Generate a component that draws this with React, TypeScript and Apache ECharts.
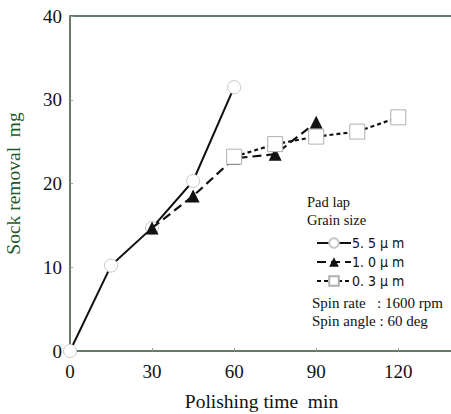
import React, { useEffect, useRef } from "react";
import * as echarts from "echarts";

const xTicks = [0, 30, 60, 90, 120];
const yTicks = [0, 10, 20, 30, 40];

const s55Name = "5. 5 μ m";
const s55X = [0, 15, 30, 45, 60];
const s55Y = [0, 10.2, 14.7, 20.3, 31.5];

const s10Name = "1. 0 μ m";
const s10X = [30, 45, 60, 75, 90];
const s10Y = [14.7, 18.5, 23.0, 23.5, 27.3];

const s03Name = "0. 3 μ m";
const s03X = [60, 75, 90, 105, 120];
const s03Y = [23.2, 24.7, 25.6, 26.2, 27.9];

const pair = (xs: number[], ys: number[]) => xs.map((x, i) => [x, ys[i]]);

export default function App() {
  const ref = useRef<HTMLDivElement>(null);
  useEffect(() => {
    if (!ref.current) return;
    const chart = echarts.init(ref.current, null, { renderer: "svg" });
    const axisColor = "#33503a";
    const serif = "'Liberation Serif', 'DejaVu Serif', serif";
    chart.setOption({
      animation: false,
      backgroundColor: "#ffffff",
      grid: { left: 70, right: -2, top: 16, bottom: 63, containLabel: false, outerBoundsMode: "none" },
      xAxis: [
        {
          type: "value",
          min: 0,
          max: 140,
          interval: 30,
          position: "bottom",
          name: "Polishing time  min",
          nameLocation: "middle",
          nameGap: 40,
          nameTextStyle: { fontFamily: serif, fontSize: 19.5, color: "#111" },
          axisLine: { show: true, lineStyle: { color: axisColor, width: 1.5 } },
          axisTick: { show: true, inside: true, length: 3, lineStyle: { color: "#999" } },
          axisLabel: {
            fontFamily: serif,
            fontSize: 19,
            color: "#111",
            margin: 11,
            formatter: (v: number) => (xTicks.includes(v) ? String(v) : ""),
          },
          splitLine: { show: false },
        },
        {
          type: "value",
          min: 0,
          max: 140,
          position: "top",
          axisLine: { show: true, lineStyle: { color: axisColor, width: 1.5 } },
          axisTick: { show: false },
          axisLabel: { show: false },
          splitLine: { show: false },
        },
      ],
      yAxis: {
        type: "value",
        min: 0,
        max: 40,
        interval: 10,
        name: "Sock removal  mg",
        nameLocation: "middle",
        nameGap: 47,
        nameTextStyle: { fontFamily: serif, fontSize: 19.5, color: "#1f5a2c" },
        axisLine: { show: true, lineStyle: { color: axisColor, width: 1.5 } },
        axisTick: { show: true, inside: true, length: 3, lineStyle: { color: "#999" } },
        axisLabel: {
          fontFamily: serif,
          fontSize: 19,
          color: "#111",
          margin: 8,
          formatter: (v: number) => (yTicks.includes(v) ? String(v) : ""),
        },
        splitLine: { show: false },
      },
      legend: {
        orient: "vertical",
        left: 311,
        top: 231,
        itemWidth: 34,
        itemHeight: 12,
        itemGap: 5,
        textStyle: { fontFamily: "'DejaVu Sans Condensed', 'DejaVu Sans', sans-serif", fontSize: 14, color: "#111", padding: [0, 0, 0, -4] },
        data: [s55Name, s10Name, s03Name],
      },
      graphic: [
        { type: "text", left: 307, top: 194, style: { text: "Pad lap", font: `14.5px ${serif}`, fill: "#111" } },
        { type: "text", left: 307, top: 212, style: { text: "Grain size", font: `14.5px ${serif}`, fill: "#111" } },
        { type: "text", left: 312, top: 295, style: { text: "Spin rate   : 1600 rpm", font: `15px ${serif}`, fill: "#111" } },
        { type: "text", left: 312, top: 313, style: { text: "Spin angle : 60 deg", font: `15px ${serif}`, fill: "#111" } },
      ],
      series: [
        {
          name: s55Name,
          type: "line",
          data: pair(s55X, s55Y),
          symbol: "circle",
          symbolSize: 13,
          lineStyle: { color: "#111", width: 2, type: "solid" },
          itemStyle: { color: "#ffffff", borderColor: "#c8c8c8", borderWidth: 1 },
          z: 2,
        },
        {
          name: s10Name,
          type: "line",
          data: pair(s10X, s10Y),
          symbol: "triangle",
          symbolSize: 13,
          lineStyle: { color: "#111", width: 2.2, type: [9, 5] },
          itemStyle: { color: "#111", borderColor: "#111", borderWidth: 0 },
          z: 3,
        },
        {
          name: s03Name,
          type: "line",
          data: pair(s03X, s03Y),
          symbol: "rect",
          symbolSize: 15,
          lineStyle: { color: "#111", width: 2.2, type: [4, 3] },
          itemStyle: { color: "#ffffff", borderColor: "#b0b0b0", borderWidth: 1 },
          z: 4,
        },
      ],
    });
    return () => chart.dispose();
  }, []);
  return <div ref={ref} style={{ width: 451, height: 414, position: "absolute", left: 0, top: 0 }} />;
}
